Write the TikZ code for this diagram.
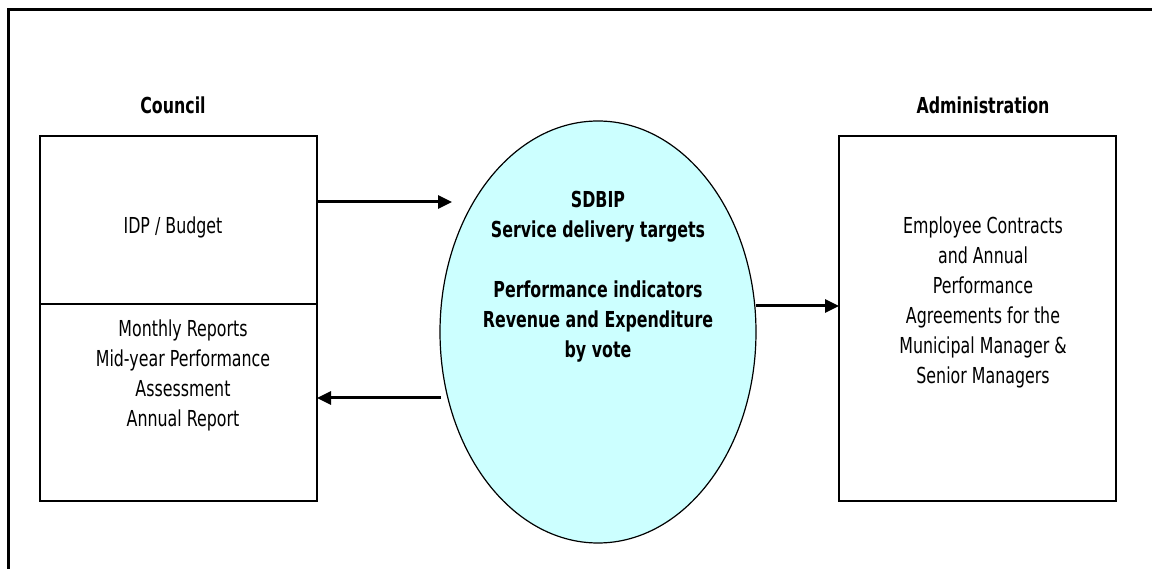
\documentclass[tikz,border=0pt]{standalone}
\usepackage{fontspec}
\setmainfont{DejaVu Sans}[FakeStretch=0.72]
\usetikzlibrary{arrows.meta,shapes.geometric}
\begin{document}
\begin{tikzpicture}[x=1pt, y=-1pt, line join=miter, font=\fontsize{22}{30}\selectfont, >={Triangle[length=14pt,width=13pt]}]
			\tikzset{cellbox/.style={draw, line width=2pt, minimum width=277pt, inner sep=0pt, outer sep=0pt},
				heading/.style={font=\fontsize{22}{30}\selectfont\bfseries},
				flow/.style={->, line width=3pt}}
			\useasboundingbox (0,0) rectangle (1152,569);
			\draw[line width=3.5pt] (8.5,569) -- (8.5,9.5) -- (1152,9.5);
			% council side
			\node[cellbox, minimum height=168pt, anchor=north west] (idp) at (40,136) {};
			\node[cellbox, minimum height=197pt, anchor=north] (reports) at (idp.south) {};
			\node[heading] (council) at (173,105) {Council};
			\node (idptext) at (173,227) {IDP / Budget};
			\node[align=center] (reptext) at (183,375) {Monthly Reports\\Mid-year Performance\\Assessment\\Annual Report};
			% administration side
			\node[cellbox, minimum height=365pt, anchor=north west] (admin) at (839,136) {};
			\node[heading] (adminhead) at (983,105) {Administration};
			\node[align=center] (admintext) at (983,302) {Employee Contracts\\and Annual\\Performance\\Agreements for the\\Municipal Manager \&\\Senior Managers};
			% sdbip
			\node[ellipse, draw, line width=1.2pt, fill={rgb,255:red,204;green,255;blue,255}, minimum width=316pt, minimum height=422pt, outer sep=0pt] (sdbip) at (598,332) {};
			\node[heading, align=center] (sdbiptext) at (598,277) {SDBIP\\Service delivery targets\\[30pt]Performance indicators\\Revenue and Expenditure\\by vote};
			\coordinate (in1) at (452,202);
			\coordinate (out2) at (441,398);
			\draw[flow] (idp.east |- in1) -- (in1);
			\draw[flow] (out2) -- (reports.east |- out2);
			\draw[flow] ([yshift=26pt]sdbip.east) -- ([yshift=26pt]sdbip.east -| admin.west);
		\end{tikzpicture}
\end{document}
